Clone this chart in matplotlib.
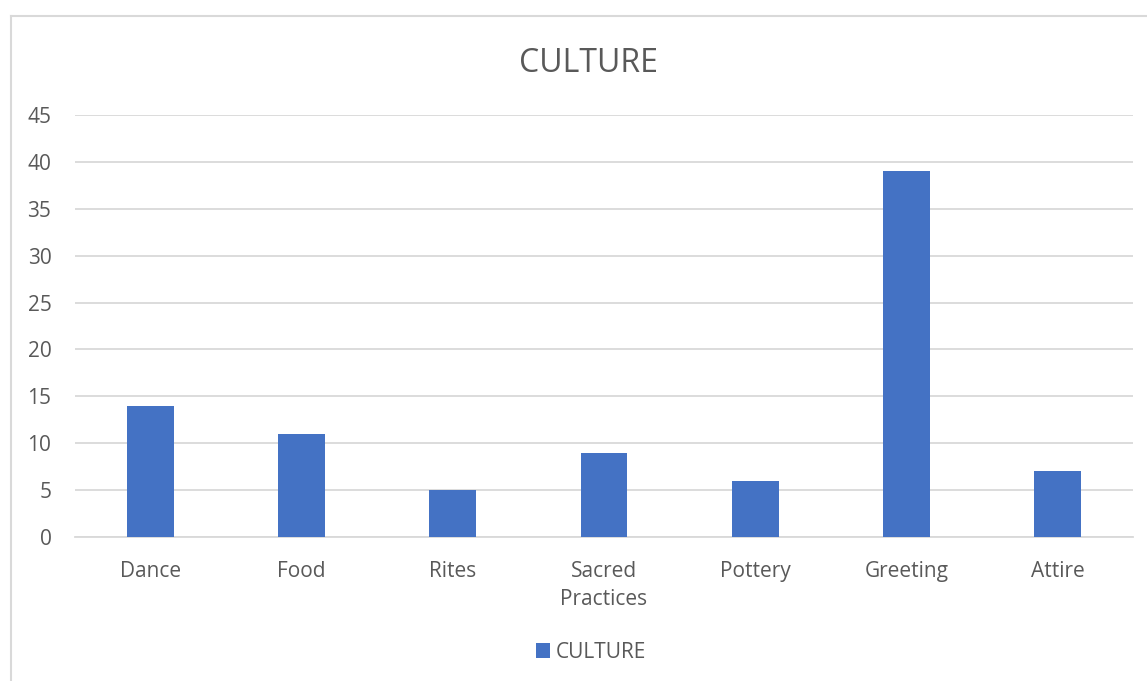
import matplotlib.pyplot as plt
from matplotlib.lines import Line2D

categories = ["Dance", "Food", "Rites", "Sacred\nPractices", "Pottery", "Greeting", "Attire"]
values = [14, 11, 5, 9, 6, 39, 7]
yticks = [0, 5, 10, 15, 20, 25, 30, 35, 40, 45]

bar_color = "#4472C4"
text_color = "#595959"
grid_color = "#D9D9D9"

plt.rcParams["font.family"] = ["Open Sans", "DejaVu Sans"]

fig = plt.figure(figsize=(11.47, 6.81), dpi=100)
ax = fig.add_axes([0.0654, 0.2115, 0.9224, 0.6197])

x = range(len(categories))
ax.bar(x, values, width=0.31, color=bar_color, zorder=3, label="CULTURE")

ax.set_xlim(-0.5, len(categories) - 0.5)
ax.set_ylim(0, 45)
ax.set_yticks(yticks)
ax.set_xticks(list(x))
ax.set_xticklabels(categories, fontsize=15, color=text_color, linespacing=1.45)
ax.tick_params(axis="y", labelsize=15, labelcolor=text_color, length=0, pad=17)
ax.tick_params(axis="x", length=0, pad=17)
ax.grid(axis="y", color=grid_color, linewidth=1.3, zorder=0)
for s in ["top", "right", "left"]:
    ax.spines[s].set_visible(False)
ax.spines["bottom"].set_color(grid_color)
ax.spines["bottom"].set_linewidth(1.3)

fig.text(0.5135, 1 - 64 / 681, "CULTURE", ha="center", va="center", fontsize=23, color=text_color)

ax.legend(loc="center", frameon=False, fontsize=15, labelcolor=text_color,
          handlelength=0.7, handleheight=0.7, handletextpad=0.25)
leg = ax.get_legend()
leg.set_bbox_to_anchor((0.515, 1 - 652 / 681), transform=fig.transFigure)

# chart frame (only left and top edges visible)
fx = 11 / 1147
fy = 1 - 16 / 681
fig.add_artist(Line2D([fx, fx], [0, fy], transform=fig.transFigure, color=grid_color, linewidth=1.5))
fig.add_artist(Line2D([fx, 1], [fy, fy], transform=fig.transFigure, color=grid_color, linewidth=1.5))

fig.savefig("out.png", dpi=100)
